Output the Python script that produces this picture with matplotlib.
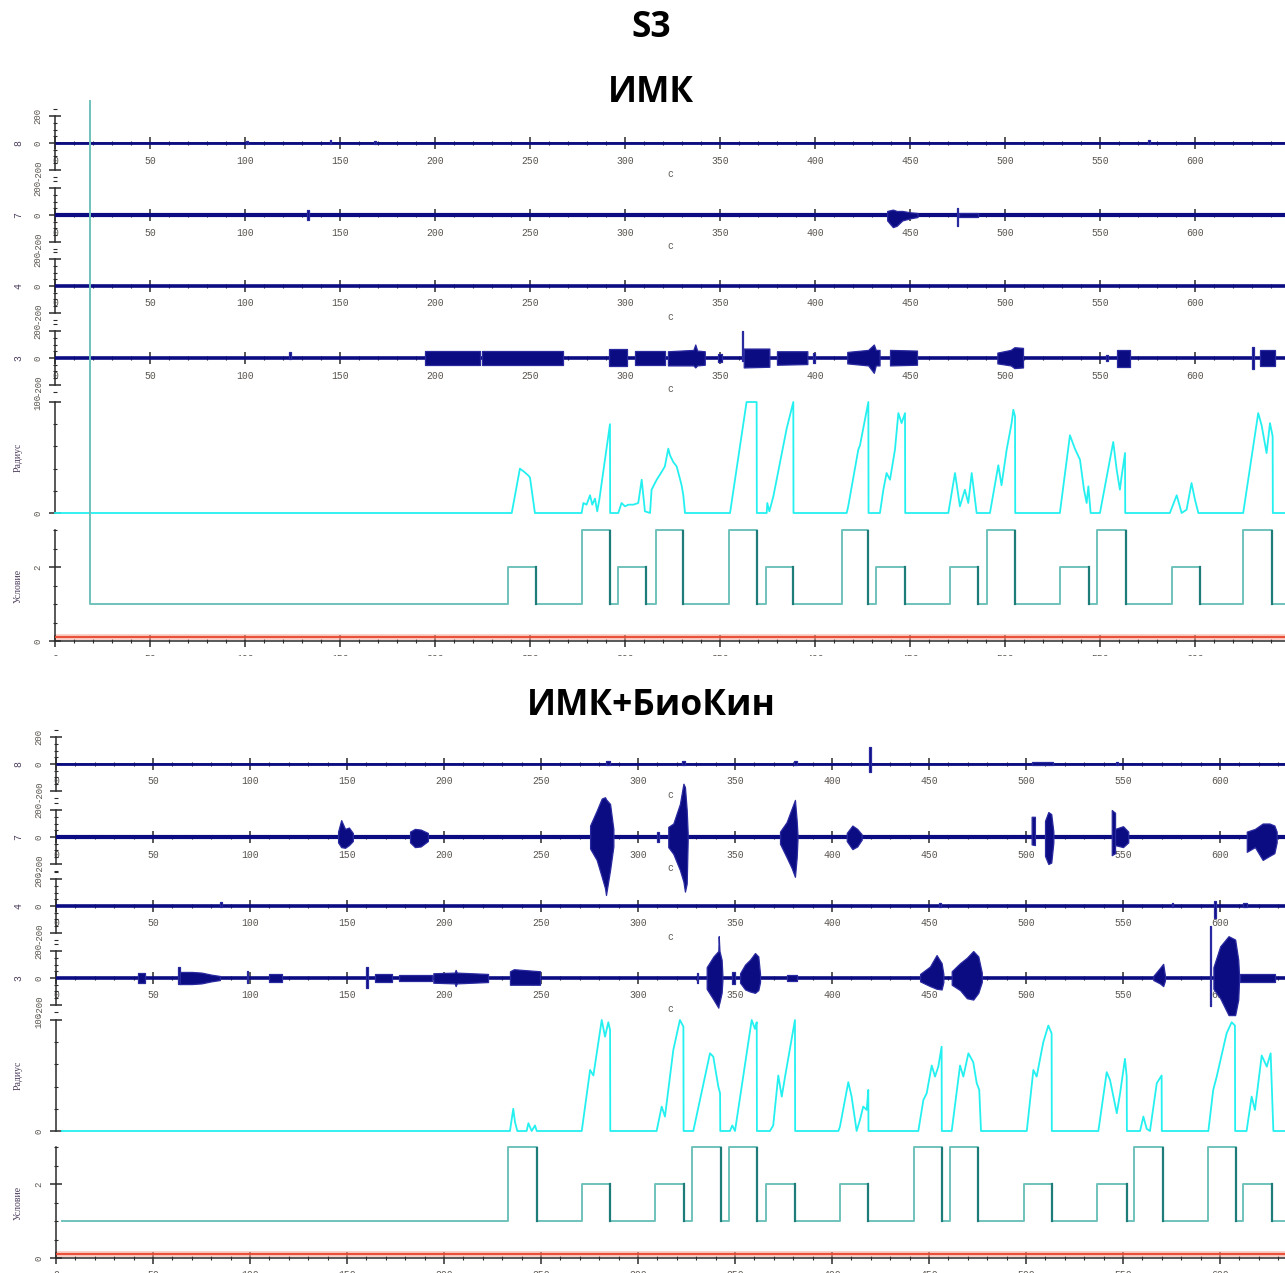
import matplotlib
matplotlib.use("Agg")
import matplotlib.pyplot as plt
from matplotlib.ticker import MultipleLocator, FixedLocator
from matplotlib.transforms import blended_transform_factory
from matplotlib.patches import Rectangle

W, H = 1285, 1273
plt.rcParams['font.family'] = ['Liberation Mono', 'DejaVu Sans']

channels = ["8", "7", "4", "3"]

# ---------- ИМК ----------
imk_xmax = 647.4
imk_cursor = (18.5, 14.6)
imk_blocks = [(238.4, 253.2, 2), (277.4, 292.1, 3), (296.3, 311.1, 2), (316.3, 330.5, 3),
              (354.7, 369.5, 3), (374.2, 388.4, 2), (414.2, 427.9, 3), (432.1, 447.4, 2),
              (471.1, 485.8, 2), (490.5, 505.3, 3), (528.9, 544.2, 2), (548.4, 563.7, 3),
              (587.9, 602.6, 2), (625.3, 640.5, 3)]
imk_radius_t = [0, 240.4, 244.7, 247, 249, 250, 252.6, 277.2, 278.1, 279.8, 281.6, 282.8, 284.2,
                285.4, 286.5, 292.1, 292.2, 296.5, 298.2, 300, 301.8, 304.4, 307, 308.8, 310.5,
                313.2, 314, 316.7, 319.3, 321, 322.8, 323.7, 325.4, 327.2, 328.9, 329.8, 330.7,
                331.6, 355.3, 364, 369.3, 369.4, 374.6, 374.9, 376, 378.1, 385.1, 388.6, 388.7,
                416.7, 417.5, 422.8, 423.7, 428.1, 428.2, 434.2, 436, 437.7, 439.5, 442.1, 443.9,
                445.6, 447.4, 447.5, 470.2, 473.7, 476.3, 478.9, 480.7, 482.5, 485.1, 492.1,
                496.5, 498.2, 500.9, 503.5, 504.4, 505.3, 505.4, 528.9, 534.2, 536.8, 539.5,
                541.6, 543, 543.9, 545.1, 550, 557, 558.8, 560.5, 561.4, 563.2, 563.3, 586.8,
                590.4, 593, 595.6, 598.2, 600, 601.8, 625.4, 633.3, 635.1, 637.7, 639.5, 640.9,
                641.0, 647.4]
imk_radius_v = [0, 0, 40, 37, 34, 32, 0, 0, 9, 7.5, 16, 7.5, 13,
                1.5, 12, 80, 0, 0, 9, 6, 7.5, 7.5, 9, 30, 1.5,
                0, 21, 30, 37, 42, 58, 52, 46, 42, 31, 25, 16,
                0, 0, 100, 100, 0, 0, 9, 1.5, 15, 76, 100, 0,
                0, 6, 57, 61, 100, 0, 0, 21, 36, 30, 57, 90,
                81, 90, 0, 0, 36, 6, 21, 9, 36, 0, 0,
                43, 25, 57, 81, 93, 87, 0, 0, 70, 58, 48,
                21, 9, 24, 0, 0, 64, 39, 21, 33, 54, 0, 0,
                16, 0, 3, 27, 12, 0, 0, 90, 79, 54, 81, 69,
                0, 0]
# огибающие всплесков ЭМГ: (t, вверх, вниз)
imk_emg = {
    "8": [[(100.5, 15, 5), (101.5, 15, 5)], [(144.5, 20, 5), (145.5, 20, 5)],
          [(168, 12, 5), (169, 12, 5)], [(575.5, 20, 5), (576.5, 20, 5)]],
    "7": [[(132.5, 40, 40), (133.5, 40, 40)],
          [(438, 30, 40), (441, 40, 90), (443, 30, 80), (446, 30, 40), (450, 20, 25), (454, 15, 15)],
          [(474.5, 50, 80), (475.5, 50, 80)], [(476, 12, 12), (486, 12, 12)]],
    "4": [],
    "3": [[(123.2, 45, 10), (124.2, 45, 10)],
          [(194.7, 50, 50), (223.7, 50, 50)],
          [(224.6, 55, 50), (267.5, 55, 50)],
          [(291.6, 65, 60), (301.0, 65, 60)],
          [(305.3, 50, 50), (321.0, 50, 50)],
          [(322.6, 50, 55), (336.0, 60, 55), (337.0, 100, 70), (338.0, 55, 55), (342.0, 50, 50)],
          [(349.0, 30, 30), (351.0, 30, 30)],
          [(361.6, 200, 20), (362.3, 200, 20)],
          [(362.5, 70, 70), (376.0, 70, 65)],
          [(380.0, 50, 50), (396.0, 50, 45)],
          [(399.0, 35, 35), (399.8, 35, 35)],
          [(417.0, 45, 40), (428.0, 60, 55), (431.0, 100, 110), (432.0, 60, 55), (434.0, 60, 55)],
          [(439.5, 60, 55), (453.7, 55, 50)],
          [(496.0, 40, 40), (503.0, 60, 55), (505.0, 80, 75), (509.5, 75, 70)],
          [(553.2, 25, 25), (554.2, 25, 25)],
          [(559.0, 60, 70), (566.0, 60, 70)],
          [(630.0, 80, 80), (631.0, 80, 80)],
          [(634.0, 60, 60), (642.0, 60, 60)]],
}

# ---------- ИМК+БиоКин ----------
bio_xmax = 633.5
bio_start = 3.0
bio_blocks = [(233.0, 247.9, 3), (271.1, 285.6, 2), (308.8, 323.7, 2), (327.8, 342.8, 3),
              (346.9, 361.3, 3), (366.0, 380.9, 2), (404.1, 418.6, 2), (442.3, 456.7, 3),
              (460.8, 475.3, 3), (499.0, 513.4, 2), (536.6, 552.1, 2), (555.7, 570.6, 3),
              (593.8, 608.2, 3), (611.9, 626.8, 2)]
bio_radius_t = [3, 234, 235.7, 236.6, 237.8, 242.6, 243.5, 245.2, 246.9, 247.8, 271, 275.3, 277,
                281.3, 283, 284.7, 285.6, 285.7, 309.6, 312.2, 313.9, 318.2, 321.6, 323.4, 323.5,
                328.5, 337.1, 338.8, 341.4, 342.3, 342.4, 347.4, 348.6, 350, 358.6, 360.3, 361.2,
                361.3, 368, 369.7, 372.3, 374.1, 375.8, 380.9, 381.0, 403.3, 404.1, 408.4, 410.1,
                412.7, 414.4, 416.1, 417.9, 418.7, 418.8, 444.5, 447.1, 448.8, 451.4, 453.1, 454.8,
                456.5, 456.6, 461.7, 466, 467.7, 470.3, 472.8, 474.6, 475.9, 476.8, 500.4, 503.8,
                505.5, 508.9, 511.5, 513.2, 513.3, 537.3, 541.6, 543.3, 546.8, 548.5, 551, 551.9,
                552.0, 558.8, 560.5, 562.2, 563.9, 567.4, 569.9, 570.0, 594, 596.5, 598.3, 603.4,
                606, 607.7, 607.8, 613.7, 616.3, 618, 621.5, 624.1, 626.1, 627.5, 633.5]
bio_radius_v = [0, 0, 20, 8, 0, 0, 7, 0, 5, 0, 0, 55, 50,
                100, 85, 98, 91, 0, 0, 22, 13, 73, 100, 94, 0,
                0, 70, 67, 40, 34, 0, 0, 5, 0, 100, 92, 98,
                0, 0, 5, 50, 31, 49, 100, 0, 0, 4, 44, 31,
                0, 10, 22, 19, 37, 0, 0, 28, 34, 59, 49, 58,
                76, 0, 0, 59, 49, 70, 62, 43, 37, 0, 0, 55,
                49, 80, 95, 88, 0, 0, 53, 46, 16, 34, 65, 49,
                0, 0, 13, 2, 0, 43, 50, 0, 0, 37, 49, 88,
                98, 95, 0, 0, 31, 19, 68, 58, 70, 0, 0]
bio_emg = {
    "8": [[(283.5, 25, 5), (285.5, 25, 5)], [(322.5, 25, 5), (324, 25, 5)],
          [(380.5, 20, 5), (382, 20, 5)], [(419.3, 125, 60), (419.9, 125, 60)],
          [(503, 12, 5), (514, 12, 5)], [(546.5, 15, 5), (547.5, 15, 5)]],
    "7": [[(145.4, 40, 40), (147, 125, 75), (149, 60, 80), (151, 70, 60), (153, 30, 30)],
          [(182.5, 40, 40), (185, 60, 75), (188, 55, 70), (191.7, 30, 30)],
          [(275.3, 85, 85), (278.7, 195, 170), (281.3, 285, 295), (283.0, 295, 380),
           (283.5, 280, 430), (285.6, 245, 245), (287.3, 60, 70)],
          [(310, 35, 35), (310.8, 35, 35)],
          [(315.6, 75, 75), (318.2, 100, 125), (321.6, 245, 245), (323.4, 395, 330),
           (324.2, 370, 405), (325.1, 200, 345), (325.6, 30, 30)],
          [(373.2, 40, 50), (376.6, 110, 150), (379.2, 210, 230), (380.9, 275, 295),
           (381.8, 120, 150), (382.2, 20, 20)],
          [(407.6, 30, 30), (410.5, 85, 90), (413, 60, 70), (415.3, 20, 20)],
          [(502.9, 150, 55), (504.6, 150, 60)],
          [(509.8, 120, 140), (511.5, 185, 200), (513, 170, 190), (514.1, 40, 40)],
          [(544.2, 200, 135), (545.9, 180, 120)],
          [(545.9, 60, 60), (550, 80, 75), (552.7, 40, 40)],
          [(613.8, 40, 110), (618, 60, 75), (622.0, 100, 170), (625.5, 100, 140),
           (628, 85, 120), (629.2, 40, 40)]],
    "4": [[(84.5, 30, 10), (85.5, 30, 10)], [(455, 20, 10), (456, 20, 10)],
          [(575, 20, 10), (576, 20, 10)], [(597, 35, 90), (597.8, 35, 90)],
          [(612, 25, 10), (614, 25, 10)]],
    "3": [[(42.3, 35, 35), (46, 35, 35)],
          [(63, 80, 45), (63.8, 80, 45)],
          [(63.8, 45, 45), (70, 45, 45), (75, 40, 40), (80, 25, 25), (84.5, 15, 15)],
          [(98.2, 50, 40), (99, 50, 40)],
          [(109.8, 30, 30), (116.5, 30, 30)],
          [(159.6, 80, 75), (160.6, 80, 75)],
          [(164.4, 30, 30), (173, 30, 30)],
          [(177, 25, 25), (193.8, 25, 25)],
          [(194.5, 35, 35), (205.5, 40, 40), (206, 60, 60), (206.6, 40, 40), (222.7, 30, 30)],
          [(234, 50, 50), (236, 65, 50), (249.5, 50, 50)],
          [(330.2, 35, 35), (330.8, 35, 35)],
          [(335.4, 80, 80), (338.9, 160, 160), (341.4, 200, 220), (341.6, 310, 200),
           (342.0, 200, 180), (343.1, 135, 110), (343.5, 20, 20)],
          [(348.5, 45, 45), (350, 45, 45)],
          [(352.6, 35, 35), (355.2, 100, 85), (357.7, 135, 100), (360.3, 185, 110),
           (362.0, 160, 90), (362.9, 30, 30)],
          [(376.8, 20, 20), (382, 20, 20)],
          [(445.4, 30, 25), (450.5, 85, 60), (453.9, 170, 80), (456.5, 110, 85), (457.4, 30, 30)],
          [(461.7, 50, 50), (466, 110, 90), (469.5, 150, 150), (472.8, 200, 160),
           (475.4, 160, 110), (477.2, 40, 30)],
          [(565.6, 15, 15), (569, 74, 40), (570.7, 105, 60), (571.6, 20, 20)],
          [(595.0, 385, 210), (595.6, 385, 210)],
          [(596.6, 80, 80), (600.1, 235, 150), (604.4, 310, 275), (607.8, 285, 275),
           (609.4, 135, 160), (609.8, 20, 20)],
          [(610.3, 30, 30), (628.4, 30, 30)]],
}

NAVY = '#0b0b82'
AXC = '#2b2b2b'
LAB = '#5a5550'
YLAB = '#4b3d5c'
CYAN = '#25f0f0'
TEAL = '#6fc2bb'
TEAL_D = '#1e7d78'
RED = '#e8452c'

fig = plt.figure(figsize=(W / 100, H / 100), dpi=100)


def px_axes(x0, top, bottom):
    ax = fig.add_axes([x0 / W, 1 - bottom / H, 1 - x0 / W, (bottom - top) / H])
    ax.patch.set_alpha(0)
    for s in ('top', 'right'):
        ax.spines[s].set_visible(False)
    return ax


def style_x(ax, xmax):
    ax.set_xlim(0, xmax)
    ax.xaxis.set_major_locator(MultipleLocator(50))
    ax.xaxis.set_minor_locator(MultipleLocator(10))
    ax.tick_params(axis='x', which='major', direction='inout', length=8, width=1.1,
                   color=AXC, labelsize=7, labelcolor=LAB, pad=5)
    ax.tick_params(axis='x', which='minor', direction='inout', length=3, width=0.8, color=AXC)
    ax.spines['bottom'].set_color(AXC)
    ax.spines['bottom'].set_linewidth(1.1)


def style_y(ax, major, labels, minor_step):
    ax.yaxis.set_major_locator(FixedLocator(major))
    ax.set_yticklabels(labels, rotation=90, va='center')
    ax.yaxis.set_minor_locator(MultipleLocator(minor_step))
    ax.tick_params(axis='y', which='major', direction='inout', length=8, width=1.1,
                   color=AXC, labelsize=6.5, labelcolor=LAB, pad=5)
    ax.tick_params(axis='y', which='minor', direction='inout', length=3, width=0.8, color=AXC)
    ax.spines['left'].set_color(AXC)
    ax.spines['left'].set_linewidth(1.1)


def side_label(text, y_px, serif=True):
    fig.text(18 / W, 1 - y_px / H, text, rotation=90, ha='center', va='center',
             fontsize=7, color=YLAB, family=['Liberation Serif'] if serif else None)


def draw_panel(x0, xmax, zeros, rad_top, rad_bot, cond_top, cond_bot,
               emg, rad_t, rad_v, blocks, t_first, cursor=None):
    half = 35.75
    base_lw = {"8": 2.0, "7": 3.0, "4": 2.6, "3": 2.6}
    for name, z in zip(channels, zeros):
        ax = px_axes(x0, z - half, z + half)
        ax.set_ylim(-265, 265)
        ax.spines['bottom'].set_position(('data', 0))
        ax.spines['left'].set_bounds(-200, 200)
        style_x(ax, xmax)
        style_y(ax, [-200, 0, 200], ['-200', '0', '200'], 50)
        ax.plot([0, xmax], [0, 0], color=NAVY, lw=base_lw[name], solid_capstyle='butt',
                zorder=3, clip_on=False)
        for env in emg[name]:
            t = [p[0] for p in env]
            up = [p[1] for p in env]
            dn = [-p[2] for p in env]
            ax.fill_between(t, dn, up, facecolor=NAVY, edgecolor='#2a2aa0', lw=0.9,
                            zorder=4, clip_on=False)
        tr = blended_transform_factory(ax.transAxes, ax.transData)
        ax.text(0.5, -230, 'с', transform=tr, ha='center', va='center', fontsize=7,
                color=LAB)
        side_label(name, z, serif=False)

    # радиус
    ax = px_axes(x0, rad_top, rad_bot)
    ax.set_xlim(0, xmax)
    ax.set_ylim(0, 100)
    ax.spines['bottom'].set_visible(False)
    ax.set_xticks([])
    style_y(ax, [0, 100], ['0', '100'], 20)
    ax.plot(rad_t, rad_v, color=CYAN, lw=1.3, clip_on=False, zorder=3)
    side_label('Радиус', (rad_top + rad_bot) / 2)

    # условие
    ax = px_axes(x0, cond_top, cond_bot)
    ax.set_ylim(0, 3)
    style_x(ax, xmax)
    style_y(ax, [0, 2], ['0', '2'], 0.5)
    ct, cv = [], []
    if cursor is not None:
        ct += [cursor[0]]
        cv += [cursor[1]]
    ct += [t_first]
    cv += [1]
    for a, b, lev in blocks:
        ct += [a, a, b, b]
        cv += [1, lev, lev, 1]
    ct.append(xmax)
    cv.append(1)
    ax.plot(ct, cv, color=TEAL, lw=1.4, clip_on=False, zorder=3)
    for a, b, lev in blocks:
        ax.plot([b, b], [lev, 1], color=TEAL_D, lw=1.6, zorder=4)
    ax.plot([0, xmax], [0.1, 0.1], color='#f5a090', lw=4, alpha=0.6, zorder=2)
    ax.plot([0, xmax], [0.1, 0.1], color=RED, lw=1.3, zorder=3)
    side_label('Условие', (cond_top + cond_bot) / 2)


draw_panel(55, imk_xmax, [143, 215, 286, 358], 402, 513, 530, 641,
           imk_emg, imk_radius_t, imk_radius_v, imk_blocks, imk_cursor[0], cursor=imk_cursor)
draw_panel(56, bio_xmax, [764, 837, 906, 978], 1020, 1131, 1147, 1258,
           bio_emg, bio_radius_t, bio_radius_v, bio_blocks, bio_start)

# нижние подписи первого блока срезаны
fig.patches.append(Rectangle((0, 1 - 688 / H), 1, (688 - 656) / H, transform=fig.transFigure,
                             facecolor='white', edgecolor='none', zorder=10))

title_font = ['Open Sans', 'DejaVu Sans']
fig.text(651 / W, 1 - 28 / H, 'S3', ha='center', va='center', fontsize=25.5,
         weight='bold', family=title_font)
fig.text(651 / W, 1 - 93 / H, 'ИМК', ha='center', va='center', fontsize=25.5,
         weight='bold', family=title_font)
fig.text(651 / W, 1 - 706 / H, 'ИМК+БиоКин', ha='center', va='center', fontsize=25.5,
         weight='bold', family=title_font, zorder=11)

fig.savefig('out.png', dpi=100)
